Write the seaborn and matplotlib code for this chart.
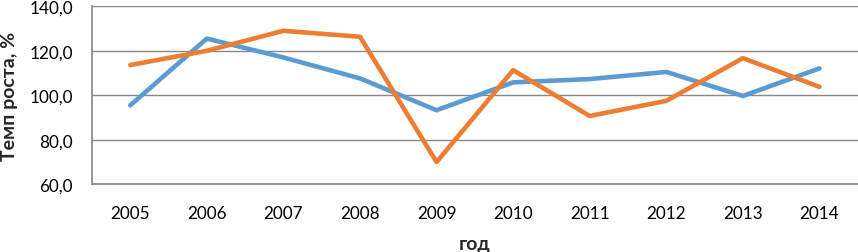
import pandas as pd
import seaborn as sns
import matplotlib.pyplot as plt

# data
years = ["2005", "2006", "2007", "2008", "2009", "2010", "2011", "2012", "2013", "2014"]
blue_values = [95.5, 125.5, 117.0, 107.6, 93.3, 105.8, 107.3, 110.5, 99.7, 112.1]
orange_values = [113.6, 120.0, 129.0, 126.3, 70.0, 111.3, 90.7, 97.5, 116.7, 103.8]
y_ticks = [60, 80, 100, 120, 140]

sns.set_theme(style="white")
plt.rcParams["font.family"] = ["Lato", "DejaVu Sans"]

df = pd.DataFrame({
    "year": years * 2,
    "value": blue_values + orange_values,
    "series": ["blue"] * len(years) + ["orange"] * len(years),
})
df["pos"] = list(range(len(years))) * 2

fig = plt.figure(figsize=(8.58, 2.53), dpi=100)
ax = fig.add_axes([0.1072, 0.2676, 0.8925, 0.7035])

sns.lineplot(data=df, x="pos", y="value", hue="series",
             palette={"blue": "#5B9BD5", "orange": "#ED7D31"},
             linewidth=3.3, legend=False, ax=ax)

ax.set_xlim(-0.5, len(years) - 0.5)
ax.set_ylim(60, 140)
ax.set_yticks(y_ticks)
ax.set_yticklabels([f"{t:.1f}".replace(".", ",") for t in y_ticks])
for t in y_ticks:
    ax.axhline(t, color="#898989", linewidth=1.0, zorder=0)

ax.set_xticks([i for i in range(len(years))])
ax.set_xticklabels(years)
ax.set_xticks([i - 0.5 for i in range(len(years) + 1)], minor=True)
ax.tick_params(axis="x", which="major", length=0, pad=15, labelsize=12.3, colors="black")
ax.tick_params(axis="x", which="minor", length=6, width=1, color="#898989", direction="out")
ax.tick_params(axis="y", length=4.3, width=1, color="#898989", direction="out",
               pad=9.4, labelsize=12.3, labelcolor="black")

for side in ["top", "right"]:
    ax.spines[side].set_visible(False)
ax.spines["left"].set_color("#898989")
ax.spines["bottom"].set_color("#898989")

ax.set_xlabel("год", fontsize=14, fontweight="bold", labelpad=10)
ax.set_ylabel("Темп роста, %", fontsize=14, fontweight="bold", labelpad=8)

fig.savefig("out.png", dpi=100)
